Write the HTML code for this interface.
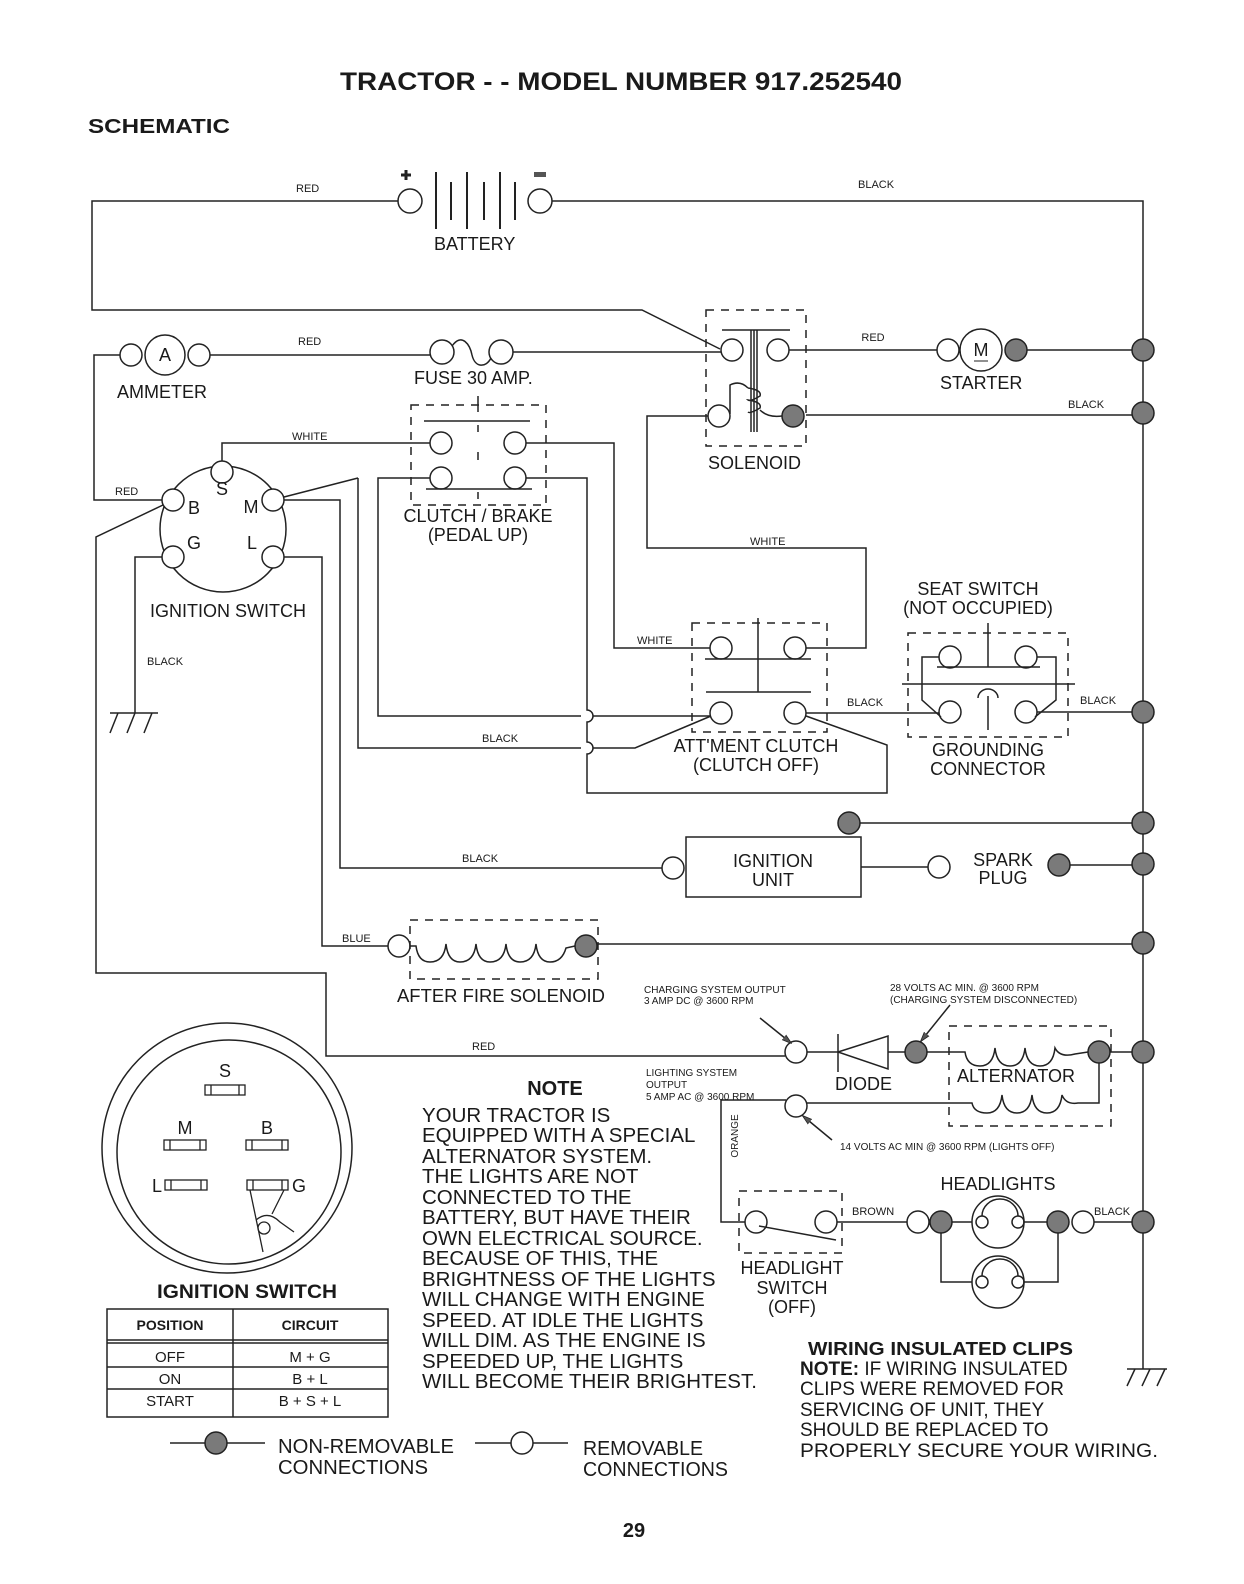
<!DOCTYPE html>
<html><head><meta charset="utf-8"><style>
html,body{margin:0;padding:0;background:#fff}
svg{display:block}
text{font-family:"Liberation Sans",Arial,sans-serif;fill:#1a1a1a}
.s{font-size:11px}
.m{font-size:18px}
.b{font-weight:bold}
</style></head><body>
<svg width="1244" height="1584" viewBox="0 0 1244 1584" xmlns="http://www.w3.org/2000/svg">
<defs>
<marker id="ar" markerWidth="10" markerHeight="8" refX="9" refY="4" orient="auto" markerUnits="userSpaceOnUse"><path d="M0,1 L10,4 L0,7 Z" fill="#555" stroke="#222" stroke-width="0.8"/></marker>
</defs>
<g fill="none" stroke="#222" stroke-width="1.5">
<path d="M398,201 H92 V310 H642 L720,349"/>
<circle cx="410" cy="201" r="12"/>
<circle cx="540" cy="201" r="12"/>
<path d="M436,172 V229 M451,182 V220 M467,172 V229 M484,182 V220 M500,172 V229 M515,182 V220" stroke-width="2"/>
<path d="M552,201 H1143 V1369"/>
<path d="M1127,1369 H1167 M1135,1369 L1127,1386 M1150,1369 L1142,1386 M1165,1369 L1157,1386"/>
<circle cx="131" cy="355" r="11"/><circle cx="165" cy="355" r="20"/><circle cx="199" cy="355" r="11"/>
<path d="M120,355 H94 V500 H162"/>
<path d="M210,355 H430"/>
<circle cx="442" cy="352" r="12"/><circle cx="501" cy="352" r="12"/>
<path d="M452,346 C462,332 470,345 472,355 C475,368 486,368 491,358"/>
<path d="M513,352 H721"/>
<rect x="706" y="310" width="100" height="136" stroke-dasharray="8,7"/>
<path d="M722,330 H790 M751,330 V432 M754,330 V432 M757,330 V432"/>
<circle cx="732" cy="350" r="11"/><circle cx="778" cy="350" r="11"/>
<circle cx="719" cy="416" r="11"/>
<path d="M730,414 V385 Q740,380 748,388 M748,388 Q762,390 760,396 Q750,402 748,400 Q762,402 760,408 Q750,414 748,412 M760,410 Q768,418 782,416"/>
<path d="M789,350 H937"/>
<circle cx="948" cy="350" r="11"/><circle cx="981" cy="350" r="21"/>
<path d="M1027,350 H1132"/>
<path d="M806,415 H1132"/>
<path d="M708,416 H647 V548 H866 V648 H806"/>
<rect x="411" y="405" width="135" height="100" stroke-dasharray="8,7"/>
<path d="M478,396 V412 M478,425 V432 M478,452 V460 M478,492 V499" />
<path d="M424,421 H530 M426,489 H532"/>
<circle cx="441" cy="443" r="11"/><circle cx="515" cy="443" r="11"/>
<circle cx="441" cy="478" r="11"/><circle cx="515" cy="478" r="11"/>
<path d="M222,461 V443 H430"/>
<path d="M526,443 H614 V648 H710"/>
<path d="M430,478 H378 V716 H581 M593,716 H710"/>
<path d="M526,478 H587 V710 A6,6 0 0 1 587,722 V742 A6,6 0 0 1 587,754 V793 H887 V745 L806,716"/>
<path d="M358,478 V748 H581 M593,748 H635 L711,716"/>
<ellipse cx="223" cy="529" rx="63" ry="63"/>
<g fill="#fff"><circle cx="222" cy="472" r="11"/><circle cx="173" cy="500" r="11"/><circle cx="273" cy="500" r="11"/><circle cx="173" cy="557" r="11"/><circle cx="273" cy="557" r="11"/></g>
<path d="M284,497 L358,478"/>
<path d="M284,500 H340 V868 H662"/>
<path d="M284,557 H322 V946 H388"/>
<path d="M163,505 L96,537 V973 H326 V1056 H785"/>
<path d="M162,557 H135 V713 M110,713 H158 M118,713 L110,733 M135,713 L127,733 M152,713 L144,733"/>
<rect x="692" y="623" width="135" height="109" stroke-dasharray="8,7"/>
<path d="M758,618 V692 M705,659 H811 M706,692 H811"/>
<circle cx="721" cy="648" r="11"/><circle cx="795" cy="648" r="11"/>
<circle cx="721" cy="713" r="11"/><circle cx="795" cy="713" r="11"/>
<path d="M806,713 H939"/>
<rect x="908" y="633" width="160" height="104" stroke-dasharray="8,7"/>
<path d="M988,623 V667 M988,696 V730 M937,667 H1040 M902,684 H1075" />
<path d="M978,698 A10,9 0 0 1 998,698"/>
<circle cx="950" cy="657" r="11"/><circle cx="1026" cy="657" r="11"/>
<circle cx="950" cy="712" r="11"/><circle cx="1026" cy="712" r="11"/>
<path d="M939,657 H922 V700 L941,717 M1037,657 H1056 V700 L1035,717"/>
<path d="M1037,712 H1132"/>
<rect x="686" y="837" width="175" height="60"/>
<circle cx="673" cy="868" r="11" fill="#fff"/>
<path d="M860,823 H1132 M861,867 H928"/>
<circle cx="939" cy="867" r="11"/>
<path d="M1070,865 H1132"/>
<rect x="410" y="920" width="188" height="59" stroke-dasharray="8,7"/>
<circle cx="399" cy="946" r="11"/>
<path d="M410,946 H416 Q418,962 430,962 Q444,962 446,944 Q448,962 460,962 Q474,962 476,944 Q478,962 490,962 Q504,962 506,944 Q508,962 520,962 Q534,962 536,944 Q538,962 550,962 Q562,962 566,948 L575,946"/>
<path d="M597,944 H1132"/>
<circle cx="796" cy="1052" r="11"/>
<path d="M807,1052 H838 M838,1034 V1072 M838,1052 L888,1036 V1069 Z M888,1052 H905"/>
<path d="M927,1052 H965 Q967,1066 980,1066 Q993,1066 995,1048 Q997,1066 1010,1066 Q1023,1066 1025,1048 Q1027,1066 1040,1066 Q1053,1066 1055,1048 Q1060,1058 1075,1054 L1088,1052"/>
<path d="M1110,1052 H1132"/>
<path d="M1099,1063 V1103 H1078 Q1066,1105 1062,1095 Q1060,1113 1047,1113 Q1034,1113 1032,1095 Q1030,1113 1017,1113 Q1004,1113 1002,1095 Q1000,1113 987,1113 Q974,1113 972,1103 H807"/>
<rect x="949" y="1026" width="162" height="100" stroke-dasharray="8,7"/>
<circle cx="796" cy="1106" r="11"/>
<path d="M786,1100 H721 V1222 H745"/>
<rect x="739" y="1191" width="103" height="62" stroke-dasharray="8,7"/>
<circle cx="756" cy="1222" r="11"/><circle cx="826" cy="1222" r="11"/>
<path d="M759,1226 L836,1240"/>
<path d="M837,1222 H907"/>
<circle cx="918" cy="1222" r="11"/>
<path d="M952,1222 H972 M1024,1222 H1047 M1094,1222 H1132"/>
<circle cx="998" cy="1222" r="26"/><circle cx="998" cy="1282" r="26"/>
<path d="M982,1216 A17,16 0 0 1 1018,1216 M982,1276 A17,16 0 0 1 1018,1276"/>
<circle cx="982" cy="1222" r="6"/><circle cx="1018" cy="1222" r="6"/>
<circle cx="982" cy="1282" r="6"/><circle cx="1018" cy="1282" r="6"/>
<path d="M941,1233 V1282 H972 M1058,1233 V1282 H1024"/>
<circle cx="1083" cy="1222" r="11"/>
<path d="M760,1018 L791,1043" marker-end="url(#ar)"/>
<path d="M950,1005 L921,1041" marker-end="url(#ar)"/>
<path d="M832,1140 L803,1116" marker-end="url(#ar)"/>
<circle cx="227" cy="1148" r="125"/>
<circle cx="229" cy="1152" r="112"/>
<g stroke-width="1.3">
<rect x="205" y="1085" width="40" height="10"/><path d="M211,1085 V1095 M239,1085 V1095"/>
<rect x="164" y="1140" width="42" height="10"/><path d="M170,1140 V1150 M200,1140 V1150"/>
<rect x="246" y="1140" width="42" height="10"/><path d="M252,1140 V1150 M282,1140 V1150"/>
<rect x="165" y="1180" width="42" height="10"/><path d="M171,1180 V1190 M201,1180 V1190"/>
<rect x="247" y="1180" width="41" height="10"/><path d="M253,1180 V1190 M282,1180 V1190"/>
<path d="M250,1190 L263,1252 M284,1190 L272,1214 M256,1220 Q268,1210 280,1222 L294,1232"/>
<circle cx="264" cy="1228" r="6"/>
</g>
<rect x="107" y="1309" width="281" height="108"/>
<path d="M233,1309 V1417 M107,1340 H388 M107,1343 H388 M107,1367 H388 M107,1389 H388"/>
<path d="M170,1443 H265 M475,1443 H568"/>
<circle cx="522" cy="1443" r="11" fill="#fff"/>
</g>
<g fill="#7a7a7a" stroke="#222" stroke-width="1.5">
<circle cx="793" cy="416" r="11"/>
<circle cx="1016" cy="350" r="11"/>
<circle cx="1143" cy="350" r="11"/><circle cx="1143" cy="413" r="11"/><circle cx="1143" cy="712" r="11"/>
<circle cx="1143" cy="823" r="11"/><circle cx="1143" cy="864" r="11"/><circle cx="1143" cy="943" r="11"/>
<circle cx="1143" cy="1052" r="11"/><circle cx="1143" cy="1222" r="11"/>
<circle cx="849" cy="823" r="11"/><circle cx="1059" cy="865" r="11"/>
<circle cx="586" cy="946" r="11"/>
<circle cx="916" cy="1052" r="11"/><circle cx="1099" cy="1052" r="11"/>
<circle cx="941" cy="1222" r="11"/><circle cx="1058" cy="1222" r="11"/>
<circle cx="216" cy="1443" r="11"/>
</g>
<path d="M401,175 H411 M406,170 V180" stroke="#222" stroke-width="3"/>
<rect x="534" y="172" width="12" height="5" fill="#555"/>
<text x="340" y="90" class="b" font-size="25" textLength="562" lengthAdjust="spacingAndGlyphs">TRACTOR - - MODEL NUMBER 917.252540</text>
<text x="88" y="133" class="b" font-size="20" textLength="142" lengthAdjust="spacingAndGlyphs">SCHEMATIC</text>
<text x="296" y="192" class="s">RED</text>
<text x="858" y="188" class="s">BLACK</text>
<text x="434" y="250" class="m">BATTERY</text>
<text x="298" y="345" class="s">RED</text>
<text x="157" y="361" class="m" text-anchor="middle" dx="8">A</text>
<text x="117" y="398" class="m">AMMETER</text>
<text x="414" y="384" class="m">FUSE 30 AMP.</text>
<text x="873" y="341" class="s" text-anchor="middle">RED</text>
<text x="981" y="356" class="m" text-anchor="middle">M</text>
<path d="M974,361 H988" stroke="#222" stroke-width="1"/>
<text x="940" y="389" class="m">STARTER</text>
<text x="1068" y="408" class="s">BLACK</text>
<text x="708" y="469" class="m">SOLENOID</text>
<text x="292" y="440" class="s">WHITE</text>
<text x="115" y="495" class="s">RED</text>
<text x="222" y="495" class="m" text-anchor="middle">S</text>
<text x="194" y="514" class="m" text-anchor="middle">B</text>
<text x="251" y="513" class="m" text-anchor="middle">M</text>
<text x="194" y="549" class="m" text-anchor="middle">G</text>
<text x="252" y="549" class="m" text-anchor="middle">L</text>
<text x="150" y="617" class="m">IGNITION SWITCH</text>
<text x="147" y="665" class="s">BLACK</text>
<text x="478" y="522" class="m" text-anchor="middle">CLUTCH / BRAKE</text>
<text x="478" y="541" class="m" text-anchor="middle">(PEDAL UP)</text>
<text x="750" y="545" class="s">WHITE</text>
<text x="978" y="595" class="m" text-anchor="middle">SEAT SWITCH</text>
<text x="978" y="614" class="m" text-anchor="middle">(NOT OCCUPIED)</text>
<text x="637" y="644" class="s">WHITE</text>
<text x="847" y="706" class="s">BLACK</text>
<text x="1080" y="704" class="s">BLACK</text>
<text x="482" y="742" class="s">BLACK</text>
<text x="756" y="752" class="m" text-anchor="middle">ATT'MENT CLUTCH</text>
<text x="756" y="771" class="m" text-anchor="middle">(CLUTCH OFF)</text>
<text x="988" y="756" class="m" text-anchor="middle">GROUNDING</text>
<text x="988" y="775" class="m" text-anchor="middle">CONNECTOR</text>
<text x="462" y="862" class="s">BLACK</text>
<text x="773" y="867" class="m" text-anchor="middle">IGNITION</text>
<text x="773" y="886" class="m" text-anchor="middle">UNIT</text>
<text x="1003" y="866" class="m" text-anchor="middle">SPARK</text>
<text x="1003" y="884" class="m" text-anchor="middle">PLUG</text>
<text x="342" y="942" class="s">BLUE</text>
<text x="397" y="1002" class="m" textLength="208" lengthAdjust="spacingAndGlyphs">AFTER FIRE SOLENOID</text>
<text x="472" y="1050" class="s">RED</text>
<text x="644" y="993" font-size="10">CHARGING SYSTEM OUTPUT</text>
<text x="644" y="1004" font-size="10">3 AMP DC @ 3600 RPM</text>
<text x="890" y="991" font-size="10">28 VOLTS AC MIN. @ 3600 RPM</text>
<text x="890" y="1003" font-size="10">(CHARGING SYSTEM DISCONNECTED)</text>
<text x="646" y="1076" font-size="10">LIGHTING SYSTEM</text>
<text x="646" y="1088" font-size="10">OUTPUT</text>
<text x="646" y="1100" font-size="10">5 AMP AC @ 3600 RPM</text>
<text x="835" y="1090" class="m">DIODE</text>
<text x="957" y="1082" class="m">ALTERNATOR</text>
<text x="840" y="1150" font-size="10">14 VOLTS AC MIN  @ 3600 RPM (LIGHTS OFF)</text>
<text x="738" y="1136" font-size="10" transform="rotate(-90 738 1136)" text-anchor="middle">ORANGE</text>
<text x="998" y="1190" class="m" text-anchor="middle">HEADLIGHTS</text>
<text x="852" y="1215" class="s">BROWN</text>
<text x="1094" y="1215" class="s">BLACK</text>
<text x="792" y="1274" class="m" text-anchor="middle">HEADLIGHT</text>
<text x="792" y="1294" class="m" text-anchor="middle">SWITCH</text>
<text x="792" y="1313" class="m" text-anchor="middle">(OFF)</text>
<text x="225" y="1077" class="m" text-anchor="middle">S</text>
<text x="185" y="1134" class="m" text-anchor="middle">M</text>
<text x="267" y="1134" class="m" text-anchor="middle">B</text>
<text x="157" y="1192" class="m" text-anchor="middle">L</text>
<text x="299" y="1192" class="m" text-anchor="middle">G</text>
<text x="157" y="1298" class="b" font-size="19" textLength="180" lengthAdjust="spacingAndGlyphs">IGNITION SWITCH</text>
<text x="170" y="1330" class="b" font-size="14" text-anchor="middle">POSITION</text>
<text x="310" y="1330" class="b" font-size="14" text-anchor="middle">CIRCUIT</text>
<text x="170" y="1362" font-size="15" text-anchor="middle">OFF</text>
<text x="310" y="1362" font-size="15" text-anchor="middle">M + G</text>
<text x="170" y="1384" font-size="15" text-anchor="middle">ON</text>
<text x="310" y="1384" font-size="15" text-anchor="middle">B + L</text>
<text x="170" y="1406" font-size="15" text-anchor="middle">START</text>
<text x="310" y="1406" font-size="15" text-anchor="middle">B + S + L</text>
<text x="278" y="1453" font-size="20" textLength="176" lengthAdjust="spacingAndGlyphs">NON-REMOVABLE</text>
<text x="278" y="1474" font-size="20" textLength="150" lengthAdjust="spacingAndGlyphs">CONNECTIONS</text>
<text x="583" y="1455" font-size="20" textLength="120" lengthAdjust="spacingAndGlyphs">REMOVABLE</text>
<text x="583" y="1476" font-size="20" textLength="145" lengthAdjust="spacingAndGlyphs">CONNECTIONS</text>
<text x="555" y="1095" class="b" font-size="20" text-anchor="middle">NOTE</text>
<g font-size="20.5">
<text x="422" y="1122">YOUR TRACTOR IS</text>
<text x="422" y="1142">EQUIPPED WITH A SPECIAL</text>
<text x="422" y="1163">ALTERNATOR SYSTEM.</text>
<text x="422" y="1183">THE LIGHTS ARE NOT</text>
<text x="422" y="1204">CONNECTED TO THE</text>
<text x="422" y="1224">BATTERY, BUT HAVE THEIR</text>
<text x="422" y="1245">OWN ELECTRICAL SOURCE.</text>
<text x="422" y="1265">BECAUSE OF THIS, THE</text>
<text x="422" y="1286">BRIGHTNESS OF THE LIGHTS</text>
<text x="422" y="1306">WILL CHANGE WITH ENGINE</text>
<text x="422" y="1327">SPEED.  AT IDLE THE LIGHTS</text>
<text x="422" y="1347">WILL DIM.  AS THE ENGINE IS</text>
<text x="422" y="1368">SPEEDED UP, THE LIGHTS</text>
<text x="422" y="1388">WILL BECOME THEIR BRIGHTEST.</text>
</g>
<text x="808" y="1355" class="b" font-size="18" textLength="265" lengthAdjust="spacingAndGlyphs">WIRING INSULATED CLIPS</text>
<g font-size="19">
<text x="800" y="1375"><tspan font-weight="bold">NOTE:</tspan> IF WIRING INSULATED</text>
<text x="800" y="1395">CLIPS WERE REMOVED FOR</text>
<text x="800" y="1416">SERVICING OF UNIT, THEY</text>
<text x="800" y="1436">SHOULD BE REPLACED TO</text>
<text x="800" y="1457" textLength="358" lengthAdjust="spacingAndGlyphs">PROPERLY SECURE YOUR WIRING.</text>
</g>
<text x="634" y="1537" class="b" font-size="20" text-anchor="middle">29</text>
</svg>
</body></html>
